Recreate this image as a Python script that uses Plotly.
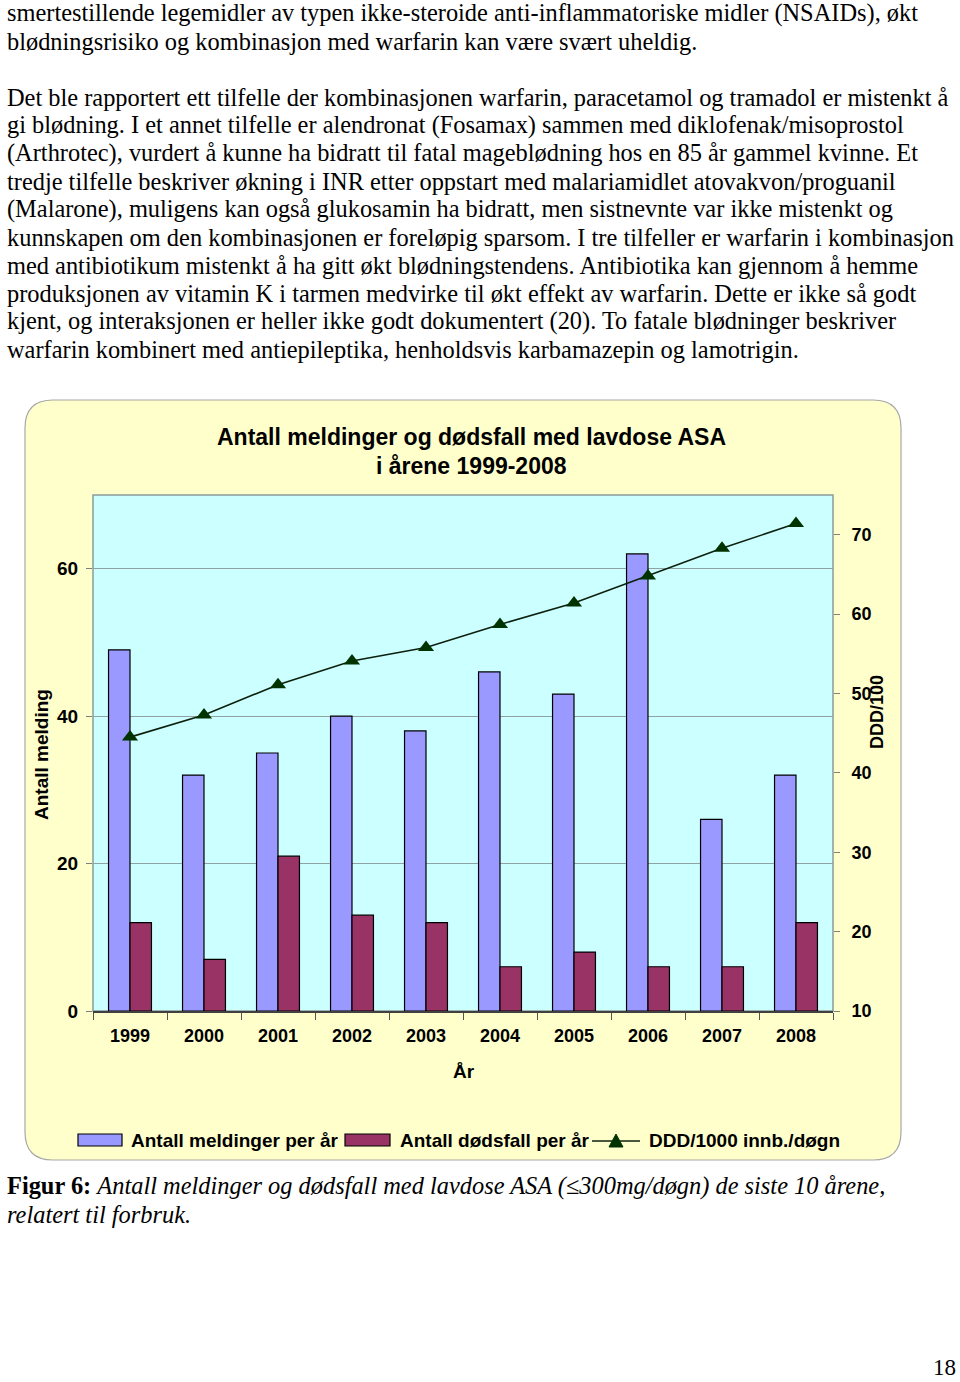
import plotly.graph_objects as go

# ---------------- data ----------------
years = ["1999", "2000", "2001", "2002", "2003", "2004", "2005", "2006", "2007", "2008"]
meldinger = [49, 32, 35, 40, 38, 46, 43, 62, 26, 32]
dodsfall = [12, 7, 21, 13, 12, 6, 8, 6, 6, 12]
ddd = [44.5, 47.3, 51.1, 54.1, 55.8, 58.7, 61.4, 64.8, 68.3, 71.4]
left_ticks = [0, 20, 40, 60]
right_ticks = [10, 20, 30, 40, 50, 60, 70]

series_names = ["Antall meldinger per år", "Antall dødsfall per år", "DDD/1000 innb./døgn"]
chart_title = ["Antall meldinger og dødsfall med lavdose ASA", "i årene 1999-2008"]
y_title = "Antall melding"
y2_title = "DDD/100"
x_title = "År"

body_lines = [
    "smertestillende legemidler av typen ikke-steroide anti-inflammatoriske midler (NSAIDs), økt",
    "blødningsrisiko og kombinasjon med warfarin kan være svært uheldig.",
    "Det ble rapportert ett tilfelle der kombinasjonen warfarin, paracetamol og tramadol er mistenkt å",
    "gi blødning. I et annet tilfelle er alendronat (Fosamax) sammen med diklofenak/misoprostol",
    "(Arthrotec), vurdert å kunne ha bidratt til fatal mageblødning hos en 85 år gammel kvinne. Et",
    "tredje tilfelle beskriver økning i INR etter oppstart med malariamidlet atovakvon/proguanil",
    "(Malarone), muligens kan også glukosamin ha bidratt, men sistnevnte var ikke mistenkt og",
    "kunnskapen om den kombinasjonen er foreløpig sparsom. I tre tilfeller er warfarin i kombinasjon",
    "med antibiotikum mistenkt å ha gitt økt blødningstendens. Antibiotika kan gjennom å hemme",
    "produksjonen av vitamin K i tarmen medvirke til økt effekt av warfarin. Dette er ikke så godt",
    "kjent, og interaksjonen er heller ikke godt dokumentert (20). To fatale blødninger beskriver",
    "warfarin kombinert med antiepileptika, henholdsvis karbamazepin og lamotrigin.",
]
body_y = [13, 41, 97, 125, 153, 181, 209, 237, 265, 293, 321, 349]
caption_lines = [
    "<b>Figur 6:</b> <i>Antall meldinger og dødsfall med lavdose ASA (≤300mg/døgn) de siste 10 årene,</i>",
    "<i>relatert til forbruk.</i>",
]
caption_y = [1186, 1214]
page_number = "18"

# ---------------- geometry ----------------
W, H = 960, 1382
PL, PR, PT, PB = 93, 833, 495, 1011


def px(x):
    return (x - PL) / (PR - PL)


def py(y):
    return (PB - y) / (PB - PT)


def rounded_rect(x0, y0, x1, y1, r):
    pts = []
    pts.append(f"M {px(x0 + r)},{py(y0)}")
    pts.append(f"L {px(x1 - r)},{py(y0)}")
    pts.append(f"Q {px(x1)},{py(y0)} {px(x1)},{py(y0 + r)}")
    pts.append(f"L {px(x1)},{py(y1 - r)}")
    pts.append(f"Q {px(x1)},{py(y1)} {px(x1 - r)},{py(y1)}")
    pts.append(f"L {px(x0 + r)},{py(y1)}")
    pts.append(f"Q {px(x0)},{py(y1)} {px(x0)},{py(y1 - r)}")
    pts.append(f"L {px(x0)},{py(y0 + r)}")
    pts.append(f"Q {px(x0)},{py(y0)} {px(x0 + r)},{py(y0)}")
    pts.append("Z")
    return " ".join(pts)


SANS = "Liberation Sans"
SERIF = "Liberation Serif"
BLUE = "#9999FF"
RED = "#993366"
GREEN = "#003300"
BODY_SIZE = 24.4

fig = go.Figure()
fig.add_trace(go.Bar(x=years, y=meldinger, name=series_names[0],
                     marker=dict(color=BLUE, line=dict(color="#000000", width=1.2))))
fig.add_trace(go.Bar(x=years, y=dodsfall, name=series_names[1],
                     marker=dict(color=RED, line=dict(color="#000000", width=1.2))))
fig.add_trace(go.Scatter(x=years, y=ddd, name=series_names[2], yaxis="y2",
                         mode="lines+markers",
                         line=dict(color="#0d200d", width=1.6),
                         marker=dict(symbol="triangle-up", size=14, color=GREEN)))

shapes = [
    dict(type="path", xref="paper", yref="paper", layer="below",
         path=rounded_rect(25, 400, 901, 1160, 28),
         fillcolor="#FFFFCC", line=dict(color="#A8A8A8", width=1.2)),
    dict(type="rect", xref="paper", yref="paper", layer="below",
         x0=0, x1=1, y0=0, y1=1,
         fillcolor="#CCFFFF", line=dict(color="#8A9A9A", width=1.5)),
    # legend keys
    dict(type="rect", xref="paper", yref="paper",
         x0=px(78), x1=px(122), y0=py(1146), y1=py(1134),
         fillcolor=BLUE, line=dict(color="#000000", width=1.2)),
    dict(type="rect", xref="paper", yref="paper",
         x0=px(345), x1=px(390), y0=py(1146), y1=py(1134),
         fillcolor=RED, line=dict(color="#000000", width=1.2)),
    dict(type="line", xref="paper", yref="paper",
         x0=px(592), x1=px(640), y0=py(1141), y1=py(1141),
         line=dict(color="#0d200d", width=1.6)),
    dict(type="path", xref="paper", yref="paper",
         path=f"M {px(609)},{py(1147)} L {px(623)},{py(1147)} L {px(616)},{py(1134)} Z",
         fillcolor=GREEN, line=dict(color=GREEN, width=1)),
]

ann = []
for t, y in zip(body_lines, body_y):
    ann.append(dict(text=t, x=px(5), y=py(y), xref="paper", yref="paper",
                    xanchor="left", yanchor="middle", showarrow=False,
                    font=dict(family=SERIF, size=BODY_SIZE, color="#000000")))
for t, y in zip(caption_lines, caption_y):
    ann.append(dict(text=t, x=px(5), y=py(y), xref="paper", yref="paper",
                    xanchor="left", yanchor="middle", showarrow=False,
                    font=dict(family=SERIF, size=BODY_SIZE, color="#000000")))
ann.append(dict(text=page_number, x=px(958), y=py(1367), xref="paper", yref="paper",
                xanchor="right", yanchor="middle", showarrow=False,
                font=dict(family=SERIF, size=23, color="#000000")))
for t, y in zip(chart_title, [437, 466]):
    ann.append(dict(text=t, x=px(471), y=py(y), xref="paper", yref="paper",
                    xanchor="center", yanchor="middle", showarrow=False,
                    font=dict(family=SANS, size=23, color="#000000", weight="bold")))
ann.append(dict(text=y_title, x=px(41), y=py(755), xref="paper", yref="paper",
                xanchor="center", yanchor="middle", showarrow=False, textangle=-90,
                font=dict(family=SANS, size=19, color="#000000", weight="bold")))
ann.append(dict(text=y2_title, x=px(877), y=py(712), xref="paper", yref="paper",
                xanchor="center", yanchor="middle", showarrow=False, textangle=-90,
                font=dict(family=SANS, size=18, color="#000000", weight="bold")))
ann.append(dict(text=x_title, x=px(464), y=py(1071), xref="paper", yref="paper",
                xanchor="center", yanchor="middle", showarrow=False,
                font=dict(family=SANS, size=19, color="#000000", weight="bold")))
for t, x in zip(series_names, [129, 398, 647]):
    ann.append(dict(text=t, x=px(x), y=py(1140), xref="paper", yref="paper",
                    xanchor="left", yanchor="middle", showarrow=False,
                    font=dict(family=SANS, size=19, color="#000000", weight="bold")))

fig.update_layout(
    width=W, height=H, autosize=False,
    margin=dict(l=PL, r=W - PR, t=PT, b=H - PB, pad=0),
    paper_bgcolor="#FFFFFF", plot_bgcolor="rgba(0,0,0,0)",
    barmode="group", bargap=0.42, bargroupgap=0,
    showlegend=False,
    shapes=shapes, annotations=ann,
    xaxis=dict(type="category", range=[-0.5, 9.5], tickson="boundaries",
               ticks="outside", ticklen=7, tickcolor="#555555", tickwidth=1,
               showline=True, linecolor="#404040", linewidth=1.5,
               showgrid=False, automargin=False, ticklabelstandoff=8,
               tickfont=dict(family=SANS, size=18, color="#000000", weight="bold")),
    yaxis=dict(range=[0, 70], tickvals=left_ticks, ticks="outside", ticklen=6,
               tickcolor="#808080", showgrid=True, gridcolor="#8FA3A3", gridwidth=1,
               zeroline=False, showline=False, automargin=False, ticklabelstandoff=4,
               tickfont=dict(family=SANS, size=19, color="#000000", weight="bold")),
    yaxis2=dict(range=[10, 75], tickvals=right_ticks, overlaying="y", side="right",
                ticks="outside", ticklen=6, tickcolor="#808080", showgrid=False,
                zeroline=False, showline=False, automargin=False, ticklabelstandoff=8,
                tickfont=dict(family=SANS, size=18, color="#000000", weight="bold")),
)

fig.write_html("out.html",
               config={"displayModeBar": False},
               post_script="document.body.style.margin='0px';document.body.style.overflow='hidden';")
